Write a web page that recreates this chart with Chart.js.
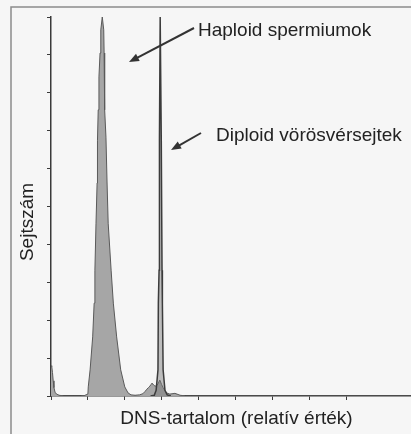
<!DOCTYPE html>
<html>
<head>
<meta charset="utf-8">
<script src="https://cdn.jsdelivr.net/npm/chart.js@4"></script>
<style>
  body { margin: 0; background: #f6f6f6; }
  #myChart { display: block; }
</style>
</head>
<body>
<canvas id="myChart" width="411" height="434"></canvas>
<script>
// DNA content channels and cell counts
const spermChannel = [0, 2, 4, 6, 8, 11, 15, 22, 35, 60, 80, 90, 100, 101, 106, 113, 117, 119, 122, 125, 126, 128, 130, 133, 135, 139,
  143, 144, 145, 146, 149, 152, 155, 163, 169, 178, 189, 200, 209, 217, 228, 240, 249, 255, 260, 264, 268, 271, 274, 278, 282,
  286, 290, 295, 300, 304, 309, 314, 322, 336, 350, 365, 380, 976];
const spermCount = [80, 78, 62, 40, 22, 10, 5, 2, 0, 0, 0, 1, 5, 24, 69, 156, 245, 332, 456, 562, 675, 755, 842, 905, 966, 1000,
  966, 905, 842, 755, 683, 562, 456, 332, 245, 156, 69, 24, 8, 3, 2, 3, 6, 12, 18, 22, 26, 30, 34, 29, 26,
  27, 32, 42, 30, 22, 14, 8, 5, 7, 2, 0, 0, 0];

const rbcChannel = [270, 280, 285, 290, 291, 293, 294, 296, 297, 299, 301, 302, 304, 309, 315, 325];
const rbcCount = [0, 2, 15, 69, 245, 332, 675, 1000, 1000, 675, 332, 245, 69, 15, 3, 0];

const xTitle = 'DNS-tartalom (relatív érték)';
const yTitle = 'Sejtszám';
const haploidLabel = 'Haploid spermiumok';
const diploidLabel = 'Diploid vörösvérsejtek';

const ctx = document.getElementById('myChart');
const font = '19px "Liberation Sans", Arial, sans-serif';

function arrow(c, x1, y1, x2, y2) {
  const a = Math.atan2(y2 - y1, x2 - x1);
  const len = 10, w = 4;
  c.beginPath();
  c.moveTo(x1, y1);
  c.lineTo(x2 - Math.cos(a) * len * 0.8, y2 - Math.sin(a) * len * 0.8);
  c.stroke();
  c.beginPath();
  c.moveTo(x2, y2);
  c.lineTo(x2 - Math.cos(a) * len + Math.sin(a) * w, y2 - Math.sin(a) * len - Math.cos(a) * w);
  c.lineTo(x2 - Math.cos(a) * len - Math.sin(a) * w, y2 - Math.sin(a) * len + Math.cos(a) * w);
  c.closePath();
  c.fill();
}

// paper background, frame, labels and arrows
const decor = {
  id: 'decor',
  beforeDraw(chart) {
    const c = chart.ctx;
    c.save();
    c.fillStyle = '#f6f6f6';
    c.fillRect(0, 0, chart.width, chart.height);
    c.strokeStyle = '#8c8c8c';
    c.lineWidth = 1.5;
    c.beginPath();
    c.moveTo(11, chart.height);
    c.lineTo(11, 7);
    c.lineTo(chart.width, 7);
    c.stroke();
    c.restore();
  },
  afterDraw(chart) {
    const c = chart.ctx;
    c.save();
    c.fillStyle = '#222';
    c.font = font;
    c.textBaseline = 'alphabetic';
    c.textAlign = 'left';
    c.fillText(haploidLabel, 198, 36);
    c.fillText(diploidLabel, 216, 141);
    c.textAlign = 'center';
    c.fillText(xTitle, 236.5, 424);
    c.translate(33, 222);
    c.rotate(-Math.PI / 2);
    c.fillText(yTitle, 0, 0);
    c.restore();

    c.save();
    c.strokeStyle = '#333';
    c.fillStyle = '#333';
    c.lineWidth = 2;
    arrow(c, 194, 28, 129, 62);
    arrow(c, 201, 133, 171, 150);
    c.restore();
  }
};

new Chart(ctx, {
  type: 'line',
  data: {
    datasets: [{
      label: diploidLabel,
      data: rbcChannel.map((x, i) => ({ x: x, y: rbcCount[i] })),
      borderColor: '#3c3c3c',
      backgroundColor: 'rgba(120,120,120,0.45)',
      borderWidth: 1.5,
      fill: 'origin',
      pointRadius: 0,
      tension: 0
    }, {
      label: haploidLabel,
      data: spermChannel.map((x, i) => ({ x: x, y: spermCount[i] })),
      borderColor: '#5a5a5a',
      backgroundColor: '#a6a6a6',
      borderWidth: 1,
      fill: 'origin',
      pointRadius: 0,
      tension: 0
    }]
  },
  options: {
    responsive: false,
    animation: false,
    layout: { padding: { top: 17, right: 0, bottom: 0, left: 0 } },
    plugins: { legend: { display: false }, tooltip: { enabled: false } },
    scales: {
      x: {
        type: 'linear',
        min: 0,
        max: 976,
        ticks: { display: false, stepSize: 100 },
        grid: { drawOnChartArea: false, tickLength: 4, color: '#3a3a3a' },
        border: { color: '#3a3a3a', width: 1.5 },
        afterFit: s => { s.height = 38; }
      },
      y: {
        min: 0,
        max: 1000,
        ticks: { display: false, stepSize: 100 },
        grid: { drawOnChartArea: false, tickLength: 4, color: '#3a3a3a' },
        border: { color: '#3a3a3a', width: 1.5 },
        afterFit: s => { s.width = 51; }
      }
    }
  },
  plugins: [decor]
});
</script>
</body>
</html>
